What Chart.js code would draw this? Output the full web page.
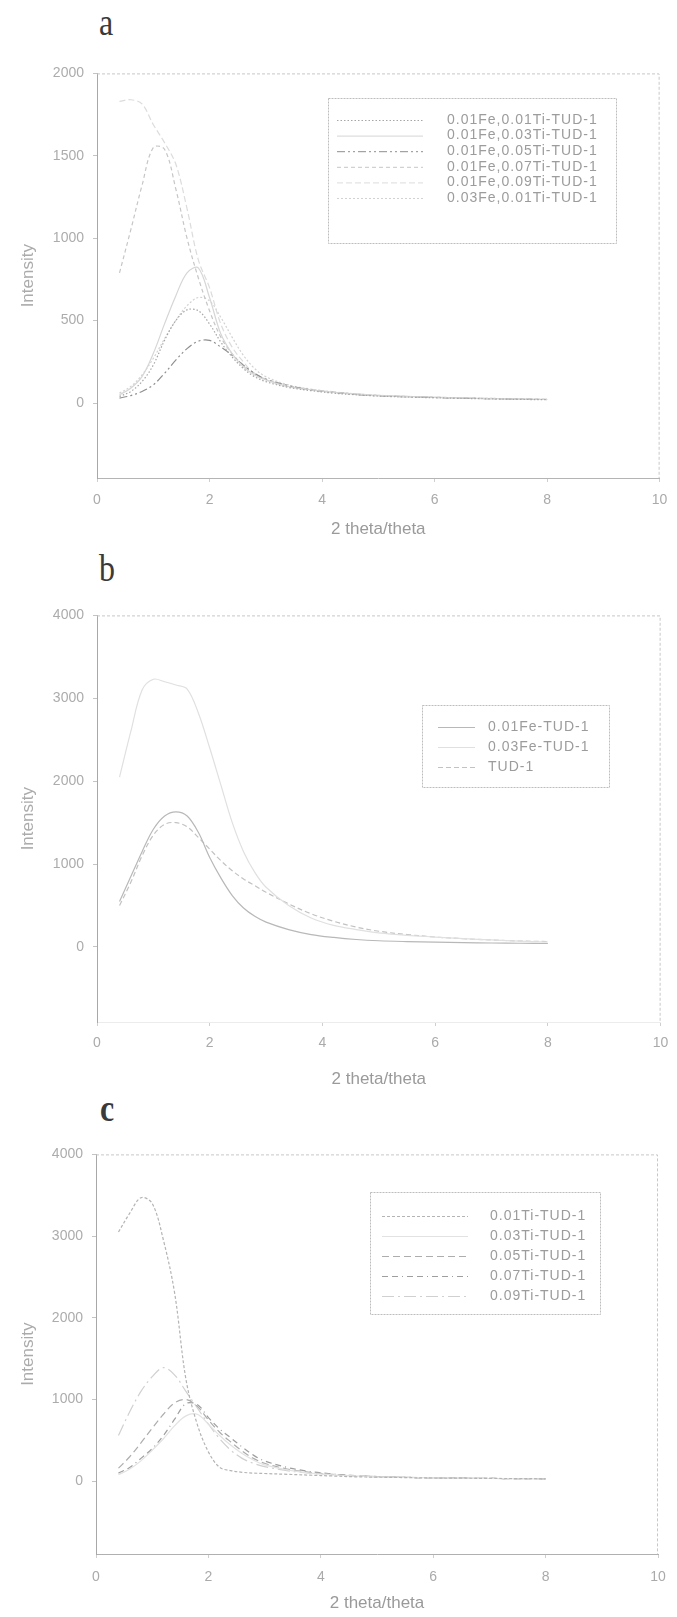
<!DOCTYPE html>
<html>
<head>
<meta charset="utf-8">
<script src="https://cdn.jsdelivr.net/npm/chart.js@4/dist/chart.umd.min.js"></script>
<style>
    html, body { margin: 0; padding: 0; background: #fff; }
    body { position: relative; width: 677px; height: 1617px; overflow: hidden; }
    .letter {
        position: absolute;
        font-family: "Liberation Serif", "DejaVu Serif", serif;
        font-size: 32px;
        line-height: 1;
        color: #3a3a3a;
        transform: translate(-50%, -50%) scale(1, 1.2);
    }
    canvas { position: absolute; left: 0; }
</style>
</head>
<body>
<div class="letter" style="left:106px; top:22px;">a</div>
<div class="letter" style="left:107px; top:568px;">b</div>
<div class="letter" style="left:107px; top:1108px; font-weight:bold;">c</div>
<canvas id="chartA"></canvas>
<canvas id="chartB"></canvas>
<canvas id="chartC"></canvas>
<script>
// shared x positions (2 theta / theta)
const xValues = [0.4, 0.6, 0.8, 1.0, 1.2, 1.4, 1.6, 1.8, 2.0, 2.2, 2.4, 2.6, 2.8, 3.0, 3.4, 3.8, 4.2, 4.6, 5.0, 5.5, 6.0, 6.5, 7.0, 7.5, 8.0];
const xTicks = [0, 2, 4, 6, 8, 10];
const yTicksA = [0, 500, 1000, 1500, 2000];
const yTicksBC = [0, 1000, 2000, 3000, 4000];

// panel a
const labelsA = ['0.01Fe,0.01Ti-TUD-1', '0.01Fe,0.03Ti-TUD-1', '0.01Fe,0.05Ti-TUD-1',
    '0.01Fe,0.07Ti-TUD-1', '0.01Fe,0.09Ti-TUD-1', '0.03Fe,0.01Ti-TUD-1'];
const fe01ti01 = [40, 70, 130, 230, 380, 500, 565, 560, 480, 370, 280, 210, 160, 130, 95, 75, 60, 50, 42, 36, 32, 28, 25, 22, 20];
const fe01ti03 = [50, 90, 160, 300, 480, 650, 790, 820, 640, 420, 300, 220, 170, 140, 100, 80, 65, 55, 46, 40, 35, 31, 27, 24, 22];
const fe01ti05 = [30, 45, 70, 110, 180, 260, 330, 375, 380, 340, 290, 230, 180, 145, 105, 80, 65, 52, 44, 38, 33, 29, 26, 23, 21];
const fe01ti07 = [790, 1050, 1320, 1550, 1540, 1300, 1000, 760, 560, 400, 300, 230, 180, 145, 105, 82, 66, 55, 46, 40, 35, 31, 27, 24, 22];
const fe01ti09 = [1830, 1840, 1815, 1690, 1580, 1450, 1180, 870, 700, 480, 340, 250, 175, 140, 100, 80, 65, 55, 45, 40, 35, 30, 28, 25, 22];
const fe03ti01 = [60, 100, 170, 270, 390, 500, 590, 640, 620, 520, 400, 290, 210, 160, 110, 85, 68, 56, 47, 40, 35, 31, 28, 25, 22];

// panel b
const labelsB = ['0.01Fe-TUD-1', '0.03Fe-TUD-1', 'TUD-1'];
const fe01 = [550, 850, 1150, 1420, 1580, 1630, 1580, 1380, 1080, 830, 620, 470, 370, 300, 210, 150, 115, 90, 75, 65, 58, 52, 48, 45, 42];
const fe03 = [2050, 2600, 3100, 3230, 3200, 3160, 3110, 2820, 2400, 1950, 1500, 1150, 900, 720, 500, 350, 260, 210, 170, 140, 120, 100, 85, 70, 60];
const tud1 = [500, 780, 1100, 1350, 1480, 1500, 1450, 1320, 1180, 1040, 920, 820, 740, 660, 520, 400, 310, 240, 190, 150, 120, 100, 85, 72, 65];

// panel c
const labelsC = ['0.01Ti-TUD-1', '0.03Ti-TUD-1', '0.05Ti-TUD-1', '0.07Ti-TUD-1', '0.09Ti-TUD-1'];
const ti01 = [3050, 3280, 3470, 3400, 2950, 2300, 1250, 700, 360, 170, 130, 110, 100, 95, 85, 75, 65, 55, 50, 45, 40, 38, 35, 33, 30];
const ti03 = [80, 150, 250, 380, 520, 680, 800, 820, 700, 560, 440, 340, 260, 200, 140, 100, 80, 65, 55, 47, 41, 37, 34, 31, 28];
const ti05 = [160, 300, 470, 650, 820, 960, 1000, 920, 750, 600, 480, 370, 280, 220, 150, 110, 85, 68, 57, 48, 42, 38, 35, 32, 30];
const ti07 = [100, 170, 280, 400, 560, 760, 950, 940, 780, 640, 530, 420, 320, 250, 170, 120, 90, 70, 58, 48, 42, 38, 35, 32, 30];
const ti09 = [560, 850, 1100, 1280, 1390, 1300, 1100, 900, 700, 520, 380, 280, 220, 180, 130, 100, 80, 65, 55, 48, 42, 38, 35, 32, 30];

const FONT = '"Liberation Sans", Arial, sans-serif';

// dashed frame round the plot area (top and right sides of the scan)
const plotFrame = {
    id: 'plotFrame',
    afterDraw(chart) {
        const a = chart.chartArea;
        const ctx = chart.ctx;
        ctx.save();
        ctx.strokeStyle = '#c8c8c8';
        ctx.lineWidth = 1;
        ctx.setLineDash([3, 2]);
        ctx.beginPath();
        ctx.moveTo(a.left, a.top + 0.5);
        ctx.lineTo(a.right - 0.5, a.top + 0.5);
        ctx.lineTo(a.right - 0.5, a.bottom);
        ctx.stroke();
        ctx.restore();
    }
};

// boxed legend placed inside the plot, like the Excel originals
const boxLegend = {
    id: 'boxLegend',
    afterDraw(chart, args, opts) {
        if (!opts || !opts.box) return;
        const ctx = chart.ctx;
        const off = opts.canvasTop;
        const b = opts.box;
        ctx.save();
        ctx.fillStyle = '#fff';
        ctx.fillRect(b.x, b.y - off, b.w, b.h);
        ctx.strokeStyle = '#bdbdbd';
        ctx.lineWidth = 1;
        ctx.setLineDash([2, 1]);
        ctx.strokeRect(b.x + 0.5, b.y - off + 0.5, b.w, b.h);
        ctx.font = '14px ' + FONT;
        ctx.letterSpacing = '1px';
        ctx.textBaseline = 'middle';
        chart.data.datasets.forEach(function (ds, i) {
            const y = opts.firstRow + i * opts.rowGap - off;
            ctx.strokeStyle = ds.borderColor;
            ctx.setLineDash(ds.borderDash || []);
            ctx.beginPath();
            ctx.moveTo(opts.sampleX1, y + 0.5);
            ctx.lineTo(opts.sampleX2, y + 0.5);
            ctx.stroke();
            ctx.fillStyle = '#9c9c9c';
            ctx.fillText(ds.label, opts.textX, y);
        });
        ctx.restore();
    }
};

function buildDatasets(labels, series, styles) {
    return series.map(function (values, i) {
        return {
            label: labels[i],
            data: xValues.map((x, j) => ({ x: x, y: values[j] })),
            borderColor: styles[i].color,
            borderDash: styles[i].dash,
            borderWidth: 1.2,
            pointRadius: 0,
            tension: 0.35,
            fill: false,
        };
    });
}

function makePanel(id, frame, datasets, yTicks, legend) {
    const canvas = document.getElementById(id);
    const top = frame.top - 12;
    const height = frame.titleY + 12 - top;
    canvas.width = 677;
    canvas.height = height;
    canvas.style.top = top + 'px';
    canvas.style.width = '677px';
    canvas.style.height = height + 'px';
    legend.canvasTop = top;

    return new Chart(canvas, {
        type: 'line',
        data: { datasets: datasets },
        options: {
            responsive: false,
            animation: false,
            layout: { padding: { top: 12, right: 677 - frame.right, left: 0, bottom: 0 } },
            plugins: {
                legend: { display: false },
                tooltip: { enabled: false },
                boxLegend: legend,
            },
            scales: {
                x: {
                    type: 'linear',
                    min: 0,
                    max: 10,
                    afterBuildTicks: s => { s.ticks = xTicks.map(v => ({ value: v })); },
                    afterFit: s => { s.height = frame.titleY + 12 - frame.bottom; },
                    grid: { drawOnChartArea: false, tickLength: 4, color: '#cfcfcf' },
                    border: { color: frame.bottomLine },
                    ticks: {
                        padding: frame.labelY - frame.bottom - 4 - 8.4,
                        color: '#aaaaaa',
                        font: { family: FONT, size: 14 },
                        maxRotation: 0,
                        callback: v => String(v),
                    },
                    title: {
                        display: true,
                        text: '2 theta/theta',
                        color: '#9a9a9a',
                        font: { family: FONT, size: 17 },
                        padding: { top: 0, bottom: 2 },
                    },
                },
                y: {
                    type: 'linear',
                    min: frame.yMin,
                    max: frame.yMax,
                    afterBuildTicks: s => { s.ticks = yTicks.map(v => ({ value: v })); },
                    afterFit: s => { s.width = frame.left; },
                    grid: { drawOnChartArea: false, tickLength: 4, color: '#c4c4c4' },
                    border: { color: '#a8a8a8' },
                    ticks: {
                        padding: 9,
                        color: '#acacac',
                        font: { family: FONT, size: 14 },
                        callback: v => String(v),
                    },
                    title: {
                        display: true,
                        text: 'Intensity',
                        color: '#ababab',
                        font: { family: FONT, size: 17 },
                        padding: { top: 18, bottom: 0 },
                    },
                },
            },
        },
        plugins: [plotFrame, boxLegend],
    });
}

makePanel('chartA',
    { top: 68, bottom: 478, left: 97, right: 665, yMin: -455, yMax: 2000, labelY: 500, titleY: 530, bottomLine: '#b4b4b4' },
    buildDatasets(labelsA, [fe01ti01, fe01ti03, fe01ti05, fe01ti07, fe01ti09, fe03ti01], [
        { color: '#a6a6a6', dash: [1.5, 2] },
        { color: '#d6d6d6', dash: [] },
        { color: '#8e8e8e', dash: [8, 3, 2, 3, 2, 3] },
        { color: '#c6c6c6', dash: [4, 3] },
        { color: '#dcdcdc', dash: [6, 3] },
        { color: '#d2d2d2', dash: [2, 2] },
    ]),
    yTicksA,
    { box: { x: 328, y: 98, w: 288, h: 145 }, firstRow: 120, rowGap: 15.6, sampleX1: 337, sampleX2: 423, textX: 447 });

makePanel('chartB',
    { top: 610, bottom: 1022, left: 97, right: 665, yMin: -905, yMax: 4000, labelY: 1043, titleY: 1080, bottomLine: '#ececec' },
    buildDatasets(labelsB, [fe01, fe03, tud1], [
        { color: '#b8b8b8', dash: [] },
        { color: '#e0e0e0', dash: [] },
        { color: '#c2c2c2', dash: [5, 3] },
    ]),
    yTicksBC,
    { box: { x: 422, y: 705, w: 187, h: 82 }, firstRow: 727, rowGap: 20, sampleX1: 438, sampleX2: 475, textX: 488 });

makePanel('chartC',
    { top: 1149, bottom: 1554, left: 96, right: 658, yMin: -890, yMax: 4000, labelY: 1577, titleY: 1604, bottomLine: '#b0b0b0' },
    buildDatasets(labelsC, [ti01, ti03, ti05, ti07, ti09], [
        { color: '#b4b4b4', dash: [3, 2] },
        { color: '#e2e2e2', dash: [] },
        { color: '#adadad', dash: [7, 4] },
        { color: '#9e9e9e', dash: [6, 4, 6, 4, 1, 4] },
        { color: '#d0d0d0', dash: [12, 4, 2, 4] },
    ]),
    yTicksBC,
    { box: { x: 370, y: 1192, w: 230, h: 122 }, firstRow: 1216, rowGap: 20, sampleX1: 382, sampleX2: 468, textX: 490 });
</script>
</body>
</html>
